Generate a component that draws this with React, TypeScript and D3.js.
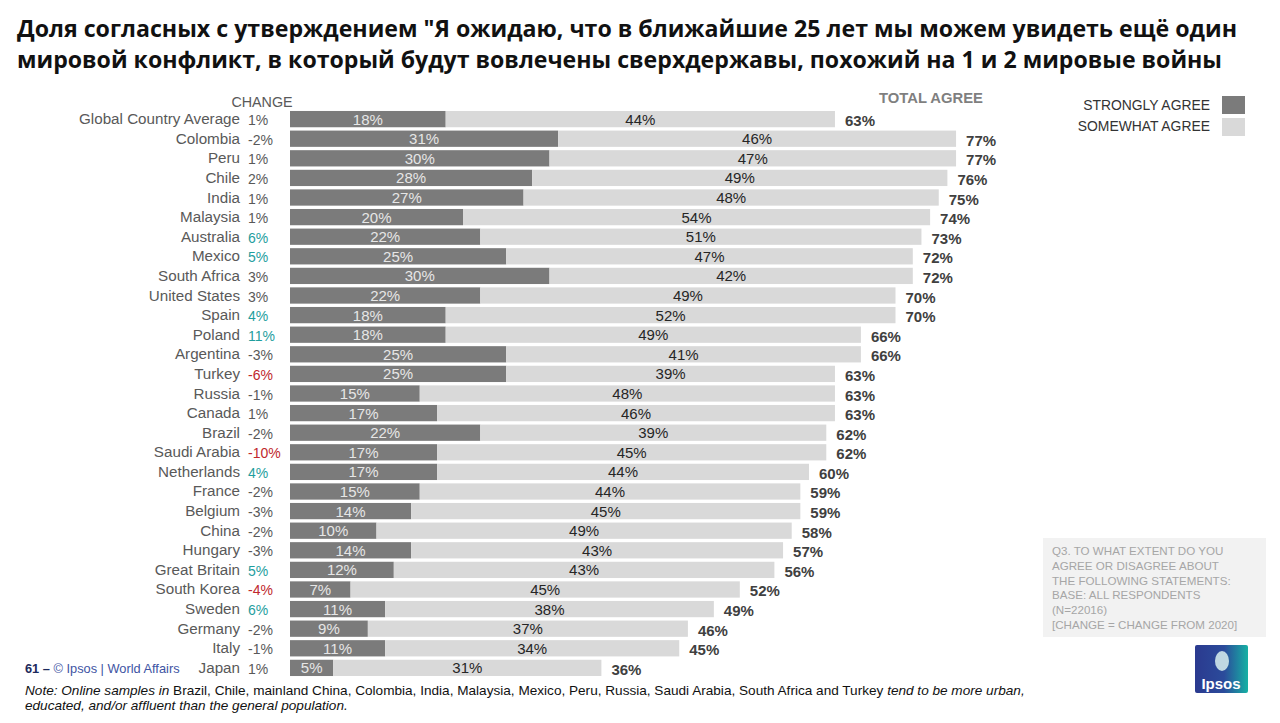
import React from 'react';
import * as d3 from 'd3';

const countries = [
  'Global Country Average', 'Colombia', 'Peru', 'Chile', 'India', 'Malaysia', 'Australia', 'Mexico',
  'South Africa', 'United States', 'Spain', 'Poland', 'Argentina', 'Turkey', 'Russia', 'Canada',
  'Brazil', 'Saudi Arabia', 'Netherlands', 'France', 'Belgium', 'China', 'Hungary', 'Great Britain',
  'South Korea', 'Sweden', 'Germany', 'Italy', 'Japan',
];
const changes = [1, -2, 1, 2, 1, 1, 6, 5, 3, 3, 4, 11, -3, -6, -1, 1, -2, -10, 4, -2, -3, -2, -3, 5, -4, 6, -2, -1, 1];
// 1 = significant rise, -1 = significant fall, 0 = no change
const changeFlag = [0, 0, 0, 0, 0, 0, 1, 1, 0, 0, 1, 1, 0, -1, 0, 0, 0, -1, 1, 0, 0, 0, 0, 1, -1, 1, 0, 0, 0];
const strongly = [18, 31, 30, 28, 27, 20, 22, 25, 30, 22, 18, 18, 25, 25, 15, 17, 22, 17, 17, 15, 14, 10, 14, 12, 7, 11, 9, 11, 5];
const somewhat = [44, 46, 47, 49, 48, 54, 51, 47, 42, 49, 52, 49, 41, 39, 48, 46, 39, 45, 44, 44, 45, 49, 43, 43, 45, 38, 37, 34, 31];
const totalAgree = [63, 77, 77, 76, 75, 74, 73, 72, 72, 70, 70, 66, 66, 63, 63, 63, 62, 62, 60, 59, 59, 58, 57, 56, 52, 49, 46, 45, 36];

const titleLines = [
  'Доля согласных с утверждением "Я ожидаю, что в ближайшие 25 лет мы можем увидеть ещё один',
  'мировой конфликт, в который будут вовлечены сверхдержавы, похожий на 1 и 2 мировые войны',
];
const noteLines = [
  'Q3. TO WHAT EXTENT DO YOU',
  'AGREE OR DISAGREE ABOUT',
  'THE FOLLOWING STATEMENTS:',
  'BASE: ALL RESPONDENTS',
  '(N=22016)',
  '[CHANGE = CHANGE FROM 2020]',
];

const W = 1280;
const H = 723;
const DARK = '#7b7b7b';
const LIGHT = '#d9d9d9';
const SANS = 'Arial, "Liberation Sans", sans-serif';

const App = () => {
  const x = d3.scaleLinear().domain([0, 100]).range([290, 1155]);
  const y = d3.scaleBand<string>().domain(countries).range([110, 677]).paddingInner(0.17).paddingOuter(0.05);
  const bh = y.bandwidth();
  const changeColor = (f: number) => (f > 0 ? '#1f9e9e' : f < 0 ? '#c0282d' : '#595959');

  return (
    <svg width={W} height={H} style={{ position: 'absolute', left: 0, top: 0, background: '#fff' }}>
      <defs>
        <linearGradient id="ipsos" x1="0" x2="1" y1="0" y2="0">
          <stop offset="0%" stopColor="#2b3a8f" />
          <stop offset="55%" stopColor="#2b4b9b" />
          <stop offset="100%" stopColor="#16b1a4" />
        </linearGradient>
      </defs>
      <rect width={W} height={H} fill="#fff" />

      {/* title */}
      {titleLines.map((t, i) => (
        <text key={i} x={17} y={37 + i * 31} fontFamily='"Open Sans", sans-serif' fontWeight={700} fontSize={23} fill="#111"
          textLength={i === 0 ? 1220 : 1205} lengthAdjust="spacingAndGlyphs">
          {t}
        </text>
      ))}

      {/* headers */}
      <text x={262} y={107} textAnchor="middle" fontFamily={SANS} fontSize={14.3} fill="#595959">CHANGE</text>
      <text x={931} y={103} textAnchor="middle" fontFamily={SANS} fontSize={14.8} fontWeight={700} fill="#7f7f7f">TOTAL AGREE</text>

      {/* legend */}
      <text x={1210} y={110} textAnchor="end" fontFamily={SANS} fontSize={13.9} fill="#333">STRONGLY AGREE</text>
      <rect x={1222} y={96} width={23} height={18} fill={DARK} />
      <text x={1210} y={131} textAnchor="end" fontFamily={SANS} fontSize={13.9} fill="#333">SOMEWHAT AGREE</text>
      <rect x={1222} y={118} width={23} height={18} fill={LIGHT} />

      {/* rows */}
      {countries.map((c, i) => {
        const yy = y(c) as number;
        const mid = yy + bh / 2 + 5;
        const x0 = x(0);
        const x1 = x(strongly[i]);
        const x2 = x(totalAgree[i]);
        return (
          <g key={c}>
            <text x={240} y={mid} textAnchor="end" fontFamily={SANS} fontSize={15.2} fill="#595959">{c}</text>
            <text x={248} y={mid + 1} fontFamily={SANS} fontSize={14} fill={changeColor(changeFlag[i])}>{changes[i]}%</text>
            <rect x={x0} y={yy} width={x1 - x0} height={bh} fill={DARK} />
            <rect x={x1} y={yy} width={x2 - x1} height={bh} fill={LIGHT} />
            <text x={(x0 + x1) / 2} y={mid + 0.5} textAnchor="middle" fontFamily={SANS} fontSize={15} fill="#e6e6e6">{strongly[i]}%</text>
            <text x={(x1 + x2) / 2} y={mid + 0.5} textAnchor="middle" fontFamily={SANS} fontSize={15} fill="#262626">{somewhat[i]}%</text>
            <text x={x2 + 10} y={mid + 2} fontFamily={SANS} fontSize={15} fontWeight={700} fill="#404040">{totalAgree[i]}%</text>
          </g>
        );
      })}

      {/* question box */}
      <rect x={1043} y={538} width={223} height={99} fill="#f2f2f2" />
      {noteLines.map((t, i) => (
        <text key={i} x={1052} y={555 + i * 14.8} fontFamily={SANS} fontSize={11.6} fill="#a6a6a6">{t}</text>
      ))}

      {/* logo */}
      <rect x={1195} y={645} width={53} height={48} fill="url(#ipsos)" rx={2} />
      <ellipse cx={1222} cy={661} rx={7} ry={10} fill="#d9f1ee" opacity={0.85} />
      <text x={1221} y={689} textAnchor="middle" fontFamily={SANS} fontWeight={700} fontSize={15} fill="#fff">Ipsos</text>

      {/* footer */}
      <text x={25} y={673} fontFamily={SANS} fontSize={12.8}>
        <tspan fontWeight={700} fill="#1d2a5c">61 – </tspan>
        <tspan fill="#3e54a3"> © Ipsos | World Affairs</tspan>
      </text>
      <text x={25} y={695} fontFamily={SANS} fontSize={13.6} fill="#111">
        <tspan fontStyle="italic">Note: Online samples in </tspan>
        <tspan>Brazil, Chile, mainland China, Colombia, India, Malaysia, Mexico, Peru, Russia, Saudi Arabia, South Africa and Turkey </tspan>
        <tspan fontStyle="italic">tend to be more urban,</tspan>
      </text>
      <text x={25} y={710} fontFamily={SANS} fontSize={13.6} fill="#111" fontStyle="italic">educated, and/or affluent than the general population.</text>
    </svg>
  );
};

export default App;
